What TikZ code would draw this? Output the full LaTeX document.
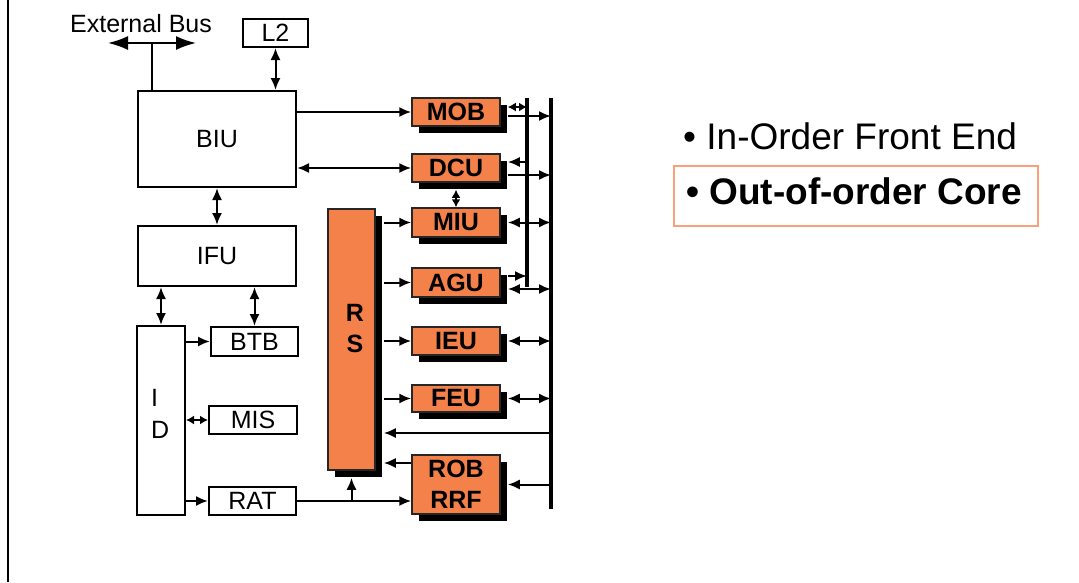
\documentclass[tikz,border=0pt]{standalone}
\usepackage{fontspec}
\setmainfont{Liberation Sans}
\usetikzlibrary{arrows.meta,shadows}
\definecolor{unitorange}{RGB}{244,128,74}
\definecolor{hilite}{RGB}{250,160,122}
\begin{document}
\begin{tikzpicture}[x=1pt,y=-1pt,
  conn/.style={line width=2pt},
  fwd/.style={conn, -{Latex[length=12pt,width=10pt]}},
  bwd/.style={conn, {Latex[length=12pt,width=10pt]}-},
  both/.style={conn, {Latex[length=12pt,width=10pt]}-{Latex[length=12pt,width=10pt]}},
  bothsmall/.style={conn, {Latex[length=8pt,width=9pt]}-{Latex[length=8pt,width=9pt]}},
  bigarrows/.style={line width=2pt, {Latex[length=20pt,width=14pt]}-{Latex[length=20pt,width=14pt]}},
  plainbox/.style={draw, line width=2pt, fill=white, font=\fontsize{25}{30}\selectfont, inner sep=0pt},
  unitbox/.style={draw=black!85, line width=1.5pt, fill=unitorange, font=\fontsize{25}{31}\selectfont\bfseries, inner sep=0pt, align=center,
    general shadow={fill=black, shadow xshift=7pt, shadow yshift=-7pt}},
  busline/.style={line width=4.5pt},
  lbl/.style={inner sep=0pt, font=\fontsize{25}{32}\selectfont}]
\useasboundingbox (0,0) rectangle (1079,582);
% left border
\coordinate (lt) at (8,0);
\coordinate (lb) at (8,582);
\draw[line width=2.5pt] (lt) -- (lb);

% plain boxes
\node[plainbox, minimum width=65, minimum height=28] (L2) at (275.5,33) {L2};
\node[plainbox, minimum width=158, minimum height=96] (BIU) at (217,139) {BIU};
\node[plainbox, minimum width=158, minimum height=60] (IFU) at (217,256) {IFU};
\node[plainbox, minimum width=48, minimum height=189] (ID) at (161,420.5) {};
\node[lbl, anchor=west, align=left] (IDtext) at (151,414) {I\\D};
\node[plainbox, minimum width=87, minimum height=29] (BTB) at (254.5,341.5) {BTB};
\node[plainbox, minimum width=88, minimum height=28] (MIS) at (253,420) {MIS};
\node[plainbox, minimum width=87, minimum height=28] (RAT) at (252.5,501) {RAT};

% orange units
\node[unitbox, minimum width=47, minimum height=261] (RS) at (351.5,339.5) {};
\node[lbl, font=\fontsize{25}{31}\selectfont\bfseries, align=center] (RStext) at (355,329) {R\\S};
\node[unitbox, minimum width=88, minimum height=28] (MOB) at (456,112) {MOB};
\node[unitbox, minimum width=88, minimum height=28] (DCU) at (456,168) {DCU};
\node[unitbox, minimum width=88, minimum height=29] (MIU) at (456,222.5) {MIU};
\node[unitbox, minimum width=88, minimum height=29] (AGU) at (456,282.5) {AGU};
\node[unitbox, minimum width=88, minimum height=28] (IEU) at (456,341) {IEU};
\node[unitbox, minimum width=88, minimum height=27] (FEU) at (456,398.5) {FEU};
\node[unitbox, minimum width=88, minimum height=59] (ROB) at (456,484.5) {ROB\\RRF};

% bus coordinates
\coordinate (ibT) at (527,98);
\coordinate (ibB) at (527,287);
\coordinate (obT) at (551,98);
\coordinate (obB) at (551,509);
\coordinate (rsr) at ([xshift=8pt]RS.east);

% external bus
\coordinate (ebL) at (108,43);
\coordinate (ebR) at (196,43);
\coordinate (ebJ) at (152,43);
\draw[bigarrows] (ebL) -- (ebR);
\draw[conn] (ebJ) -- (ebJ |- BIU.north);
\node[lbl, anchor=base] (ebtext) at (141,32) {External Bus};

% front-end connectors
\draw[both] (L2.south) -- (L2.south |- BIU.north);
\draw[both] (BIU.south) -- (IFU.north);
\draw[both] (ID.north |- IFU.south) -- (ID.north);
\draw[both] (BTB.north |- IFU.south) -- (BTB.north);
\draw[fwd] (ID.east |- BTB.west) -- (BTB.west);
\draw[bothsmall] (ID.east |- MIS.west) -- (MIS.west);
\draw[fwd] (ID.east |- RAT.west) -- (RAT.west);
\draw[fwd] (BIU.east |- MOB.west) -- (MOB.west);
\draw[both] (BIU.east |- DCU.west) -- (DCU.west);
\draw[bothsmall] ([yshift=-7pt]DCU.south) -- (MIU.north);

% RS to units
\draw[fwd] (rsr |- MIU.west) -- (MIU.west);
\draw[fwd] (rsr |- AGU.west) -- (AGU.west);
\draw[fwd] (rsr |- IEU.west) -- (IEU.west);
\draw[fwd] (rsr |- FEU.west) -- (FEU.west);
\coordinate (robB) at ([yshift=21.5pt]ROB.west);
\draw[fwd] (robB) -- (robB -| rsr);
\coordinate (fbk) at (551,433);
\draw[fwd] (fbk) -- (fbk -| rsr);
\draw[fwd] (RAT.east) -- (RAT.east -| ROB.west);
\coordinate (ratbr) at (RAT.east -| RS.south);
\draw[fwd] (ratbr) -- ([yshift=-7pt]RS.south);

% units to buses
\coordinate (mobA) at ([xshift=7pt,yshift=5pt]MOB.east);
\coordinate (mobB) at ([xshift=7pt,yshift=-4pt]MOB.east);
\draw[bothsmall] (mobA) -- (mobA -| ibT);
\draw[fwd] (mobB) -- (mobB -| obT);
\coordinate (dcuA) at ([xshift=7pt,yshift=6pt]DCU.east);
\coordinate (dcuB) at ([xshift=7pt,yshift=-7pt]DCU.east);
\draw[bwd] (dcuA) -- (dcuA -| ibT);
\draw[fwd] (dcuB) -- (dcuB -| obT);
\coordinate (miuA) at ([xshift=7pt]MIU.east);
\draw[both] (miuA) -- (miuA -| obT);
\coordinate (aguA) at ([xshift=7pt,yshift=6.5pt]AGU.east);
\coordinate (aguB) at ([xshift=7pt,yshift=-6.5pt]AGU.east);
\draw[fwd] (aguA) -- (aguA -| ibT);
\draw[both] (aguB) -- (aguB -| obT);
\coordinate (ieuA) at ([xshift=7pt]IEU.east);
\draw[both] (ieuA) -- (ieuA -| obT);
\coordinate (feuA) at ([xshift=7pt]FEU.east);
\draw[both] (feuA) -- (feuA -| obT);
\coordinate (robA) at ([xshift=7pt]ROB.east);
\draw[bwd] (robA) -- (robA -| obT);

% buses
\draw[busline] (ibT) -- (ibB);
\draw[busline] (obT) -- (obB);

% bullets
\node[anchor=base west, inner sep=0pt, font=\fontsize{37}{44}\selectfont] (b1) at (683,149) {• In-Order Front End};
\node[draw=hilite, line width=2pt, minimum width=364, minimum height=60, inner sep=0pt] (hl) at (856,196) {};
\node[anchor=base west, inner sep=0pt, font=\fontsize{37}{44}\selectfont\bfseries] (b2) at (686,204) {• Out-of-order Core};
\end{tikzpicture}
\end{document}
